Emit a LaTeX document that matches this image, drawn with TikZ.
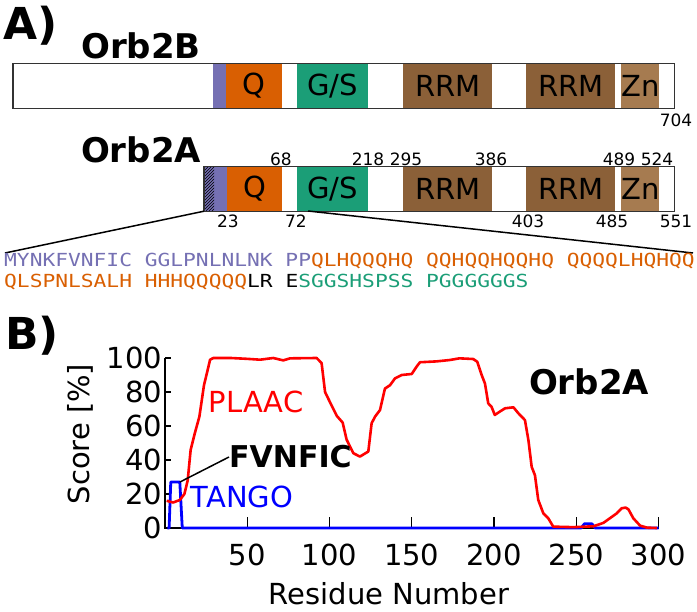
\documentclass[tikz,border=0pt]{standalone}
\usepackage{fontspec}
\setmainfont{DejaVu Sans}
\newfontfamily\seqfont[FakeStretch=1.18]{DejaVu Sans Mono}
\usetikzlibrary{patterns}
\definecolor{dPurp}{HTML}{7570B3}
\definecolor{dOrange}{HTML}{D95F02}
\definecolor{dGreen}{HTML}{1B9E77}
\definecolor{dRRM}{HTML}{8B6038}
\definecolor{dZn}{HTML}{A67B50}
\newcommand{\setfs}[1]{\fontsize{#1}{#1}\selectfont}
\begin{document}
\begin{tikzpicture}[x=1pt, y=-1pt,
    dom/.style={anchor=west, minimum height=44pt, inner sep=0pt, font=\setfs{29}},
    barbox/.style={draw=black!80, line width=1.3pt},
    numlab/.style={font=\setfs{17}, inner sep=0pt},
    axlab/.style={font=\setfs{29}, inner sep=0pt},
    titlab/.style={font=\bfseries\setfs{34}, inner sep=0pt},
    seqtxt/.style={font=\seqfont\setfs{18}, anchor=base west, inner sep=0pt}]
    \useasboundingbox (0,0) rectangle (697,612);
    % Etiquetas de panel
    \node[font=\bfseries\setfs{44}, inner sep=0pt] (panA) at (31,26) {A)};
    \node[font=\bfseries\setfs{44}, inner sep=0pt] (panB) at (32,336) {B)};
    % Orb2B
    \node[titlab] (tB) at (141,46) {Orb2B};
    \node[anchor=west, minimum width=661pt, minimum height=44pt, inner sep=0pt] (orbB) at (13,86) {};
    \node[dom, fill=dPurp, minimum width=13pt] (bP) at (213,86) {};
    \foreach \xa/\dw/\col/\txt [count=\i] in
        {226/56/dOrange/Q, 297/71/dGreen/G\slash S, 403/89/dRRM/RRM, 526/89/dRRM/RRM, 621/37/dZn/Zn}
        \node[dom, fill=\col, minimum width=\dw pt] (bD\i) at (\xa,86) {\txt};
    \draw[barbox] (orbB.north west) rectangle (orbB.south east);
    \node[numlab] (nB704) at (676,120) {704};
    % Orb2A
    \node[titlab] (tA) at (141,150) {Orb2A};
    \node[anchor=west, minimum width=470pt, minimum height=44pt, inner sep=0pt] (orbA) at (204,189) {};
    \node[dom, fill=dPurp, minimum width=23pt] (aP) at (204,189) {};
    \node[dom, pattern=north east lines, minimum width=10pt] (aH) at (204,189) {};
    \foreach \xa/\dw/\col/\txt [count=\i] in
        {227/55/dOrange/Q, 297/71/dGreen/G\slash S, 403/89/dRRM/RRM, 526/89/dRRM/RRM, 621/37/dZn/Zn}
        \node[dom, fill=\col, minimum width=\dw pt] (aD\i) at (\xa,189) {\txt};
    \draw[barbox] (orbA.north west) rectangle (orbA.south east);
    % Posiciones
    \foreach \xv/\lab in {281/68, 368/218, 406/295, 491/386, 619/489, 657/524}
        \node[numlab] (up\lab) at (\xv,159) {\lab};
    \foreach \xv/\lab in {228/23, 296/72, 528/403, 612/485, 676/551}
        \node[numlab] (dn\lab) at (\xv,221) {\lab};
    % Secuencia ampliada
    \coordinate (seqL) at (5,253);
    \coordinate (seqR) at (693,253);
    \coordinate (cutA) at (308,211);
    \draw[line width=1.5pt] (orbA.south west) -- (seqL);
    \draw[line width=1.5pt] (cutA) -- (seqR);
    \node[seqtxt] (seq1) at (4,267)
        {\textcolor{dPurp}{MYNKFVNFIC GGLPNLNLNK PP}\textcolor{dOrange}{QLHQQQHQ QQHQQHQQHQ QQQQLHQHQQ}};
    \node[seqtxt] (seq2) at (4,288)
        {\textcolor{dOrange}{QLSPNLSALH HHHQQQQQ}LR E\textcolor{dGreen}{SGGSHSPSS PGGGGGGS}};
    % Grafica: PLAAC y TANGO
    \begin{scope}[shift={(165,528)}, x=1.645pt, y=1.70pt]
        \draw[line width=1.5pt] (0,100) -- (0,0) -- (300,0);
        \foreach \xv in {50,100,...,300}
            \draw[line width=1.2pt] (\xv,0) -- (\xv,6.5) node[axlab] (xt\xv) at (\xv,-16) {\xv};
        \foreach \yv in {0,20,...,100}
            \draw[line width=1.2pt] (0,\yv) -- (3.6,\yv) node[axlab, anchor=east] (yt\yv) at (-1.5,\yv) {\yv};
        % TANGO
        \draw[blue, line width=2.8pt, line join=round]
            plot coordinates {(1.5,0) (2.5,0) (3.5,27) (9,27) (10.5,0) (253,0) (255,2.5)
            (259.5,2.5) (261.5,0) (300,0)};
        % PLAAC
        \draw[red, line width=2.6pt, line join=round]
            plot coordinates {(1,16) (5,15) (9,16.5) (11.8,20) (13.8,28) (15.6,46) (18.2,56)
            (20.9,65.5) (23.7,84) (25.7,92) (27.4,99) (29.4,100) (40,100) (50,99.5)
            (57.8,99) (65.8,100) (71.9,98.6) (76,99.8) (92.2,100) (95.2,97) (97.3,80)
            (100.3,74) (104.4,66) (108,62) (110.4,52) (114.5,44) (118.5,42) (123.6,45)
            (125.6,61.6) (127.7,65.5) (130.7,69.4) (133.7,82) (136.8,84) (139.8,88)
            (143.9,90) (150,90.6) (153,95) (155,97.5) (165,98) (173,98.8) (179,99.8)
            (187.4,99.4) (189.8,97.8) (192.5,90) (194.5,85) (196.5,73.3) (198.5,71.3)
            (200.5,66.5) (203.6,68.5) (206.7,70.4) (211.8,71) (214.8,67.5) (218.8,63.5)
            (220.9,51.8) (222.9,36) (224.9,31) (226.9,16.5) (230,8.6) (233,5.7) (236,0.8)
            (248,0.5) (260.4,1) (266.5,3) (274.6,8.6) (277.6,11.6) (280,12) (281.7,11)
            (284.7,5.7) (288.8,1.4) (293,0.2) (299,0)};
        \coordinate (fvTip) at (9,27);
    \end{scope}
    % Textos de la grafica
    \node[axlab] (xlab) at (389,594) {Residue Number};
    \node[axlab, rotate=90] (ylab) at (80,434) {Score [\%]};
    \node[axlab, red] (plaac) at (256,402) {PLAAC};
    \node[axlab, blue] (tango) at (242,497) {TANGO};
    \node[font=\bfseries\setfs{30}, inner sep=0pt, anchor=west] (fv) at (229,457) {FVNFIC};
    \draw[line width=1.5pt] (fvTip) -- (fv.west);
    \node[titlab] (tPlot) at (589,382) {Orb2A};
\end{tikzpicture}
\end{document}
